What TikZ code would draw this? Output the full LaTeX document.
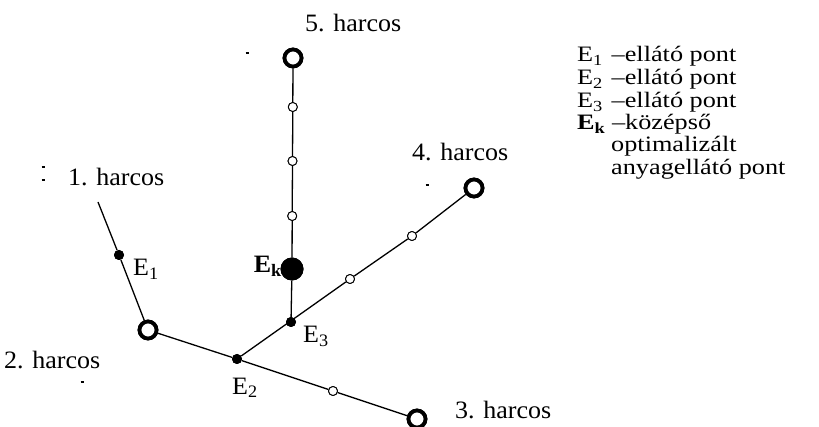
\documentclass[tikz,border=0pt]{standalone}
\usepackage{fontspec}
\setmainfont{Liberation Serif}
\usepackage{graphicx}
\newcommand\hx[1]{\scalebox{1.04}[1]{#1}}
\newcommand\lx[1]{\scalebox{1.05}[0.88]{#1}}
\tikzset{
  bigring/.style={circle, draw, line width=3.8pt, inner sep=0pt, minimum size=17pt, fill=white},
  smallring/.style={circle, draw, line width=0.9pt, fill=white, inner sep=0pt, minimum size=9pt},
  smalldot/.style={circle, fill, inner sep=0pt, minimum size=10pt},
  bigdot/.style={circle, fill, inner sep=0pt, minimum size=23pt},
  lbl/.style={font=\fontsize{25}{25}\selectfont, inner sep=0pt},
  leg/.style={lbl, text height=15pt, text depth=4pt, anchor=base west},
  edge/.style={line width=1.3pt},
  tick/.style={line width=1.2pt},
}
\begin{document}
\begin{tikzpicture}[x=1pt,y=-1pt]
\useasboundingbox (0,0) rectangle (819,427);
% nodes
\node[bigring] (p5) at (293,58) {};
\node[smallring] (s5a) at (292.8,107) {};
\node[smallring] (s5b) at (292.5,161) {};
\node[smallring] (s5c) at (292.2,216) {};
\node[bigdot] (ek) at (292,269) {};
\node[smalldot] (e3) at (291,322) {};
\node[bigring] (p4) at (474,188) {};
\node[smallring] (s4a) at (412,236) {};
\node[smallring] (s4b) at (350,279) {};
\node[smalldot] (e2) at (237,359) {};
\node[smallring] (s3) at (333,391) {};
\node[bigring] (p3) at (417,419) {};
\node[bigring] (p2) at (148,330) {};
\node[smalldot] (e1) at (119,255) {};
\coordinate (c1) at (98,202);
% connectors
\draw[edge] (p5) -- (s5a) -- (s5b) -- (s5c) -- (ek) -- (e3);
\draw[edge] (e2) -- (s4b) -- (s4a) -- (p4);
\draw[edge] (p2) -- (e2) -- (s3) -- (p3);
\draw[edge] (c1) -- (e1) -- (p2);
% redraw nodes on top
\node[bigring] at (p5) {};
\node[smallring] at (s5a) {};
\node[smallring] at (s5b) {};
\node[smallring] at (s5c) {};
\node[bigdot] at (ek) {};
\node[smalldot] at (e3) {};
\node[bigring] at (p4) {};
\node[smallring] at (s4a) {};
\node[smallring] at (s4b) {};
\node[smalldot] at (e2) {};
\node[smallring] at (s3) {};
\node[bigring] at (p3) {};
\node[bigring] at (p2) {};
\node[smalldot] at (e1) {};
% labels
\node[lbl, anchor=base west] (l5) at (305,32) {\hx{5. harcos}};
\node[lbl, anchor=base west] (l4) at (412,161) {\hx{4. harcos}};
\node[lbl, anchor=base west] (l1) at (68,186) {\hx{1. harcos}};
\node[lbl, anchor=base west] (l2) at (4,369) {\hx{2. harcos}};
\node[lbl, anchor=base west] (l3) at (455,418) {\hx{3. harcos}};
\node[lbl, anchor=base west] (le1) at (133,276) {\hx{E\textsubscript{1}}};
\node[lbl, anchor=base west] (le2) at (232,394) {\hx{E\textsubscript{2}}};
\node[lbl, anchor=base west] (le3) at (303,343) {\hx{E\textsubscript{3}}};
\node[lbl, anchor=base east] (lek) at (282,273) {\hx{\textbf{E\textsubscript{k}}}};
% legend
\node[leg] (g1) at (577,62) {\lx{E\textsubscript{1}\,\,–ellátó pont}};
\node[leg] (g2) at (577,85) {\lx{E\textsubscript{2}\,\,–ellátó pont}};
\node[leg] (g3) at (577,108) {\lx{E\textsubscript{3}\,\,–ellátó pont}};
\node[leg] (g4) at (577,130) {\lx{\textbf{E\textsubscript{k}} –középső}};
\node[leg] (g5) at (611,152) {\lx{optimalizált}};
\node[leg] (g6) at (611,175) {\lx{anyagellátó pont}};
% stray ticks
\coordinate (t1a) at (245.5,53); \coordinate (t1b) at (248.5,53);
\coordinate (t2a) at (41.5,167); \coordinate (t2b) at (45,167);
\coordinate (t3a) at (41.5,180); \coordinate (t3b) at (44.5,180);
\coordinate (t4a) at (80.5,382); \coordinate (t4b) at (83.5,382);
\coordinate (t5a) at (425.5,185); \coordinate (t5b) at (428.5,185);
\draw[tick] (t1a) -- (t1b);
\draw[tick] (t2a) -- (t2b);
\draw[tick] (t3a) -- (t3b);
\draw[tick] (t4a) -- (t4b);
\draw[tick] (t5a) -- (t5b);
\end{tikzpicture}
\end{document}
